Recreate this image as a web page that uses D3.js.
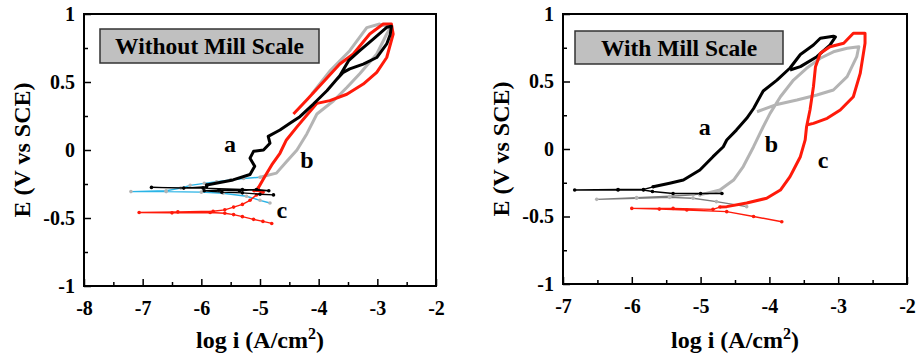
<!DOCTYPE html>
<html>
<head>
<meta charset="utf-8">
<script src="https://cdn.jsdelivr.net/npm/d3@7"></script>
<style>
  body { margin: 0; background: #fff; }
  svg { display: block; }
  text { font-family: "Liberation Serif", "Times New Roman", Times, serif; font-weight: bold; }
</style>
</head>
<body>
<div id="chart"></div>
<script>
// tick labels
const xTicksLeft = [-8, -7, -6, -5, -4, -3, -2];
const xTicksRight = [-7, -6, -5, -4, -3, -2];
const yTicks = [-1, -0.5, 0, 0.5, 1];

// ---- Without Mill Scale : [log i, E] ----
const leftA_cath = [[-4.77,-0.33],[-5.0,-0.325],[-5.3,-0.315],[-5.65,-0.31],[-5.95,-0.30],[-5.7,-0.295],[-5.35,-0.30],[-5.06,-0.29],[-4.85,-0.30],[-5.3,-0.29],[-5.97,-0.28],[-6.85,-0.275],[-6.3,-0.28],[-5.91,-0.27],[-5.91,-0.257]];
const leftA_anod = [[-5.91,-0.257],[-5.46,-0.22],[-5.17,-0.18],[-5.09,-0.12],[-5.17,-0.06],[-5.11,-0.01],[-4.94,0.0],[-4.83,0.05],[-4.86,0.10],[-4.66,0.147],[-4.49,0.196],[-4.32,0.245],[-4.09,0.338],[-3.86,0.436],[-3.64,0.546],[-3.49,0.657],[-3.30,0.73],[-3.07,0.816],[-2.84,0.902],[-2.76,0.91],[-2.78,0.85],[-2.84,0.78],[-3.01,0.68],[-3.24,0.632],[-3.47,0.596],[-3.58,0.571],[-3.69,0.52]];
const leftB_cath = [[-4.83,-0.39],[-5.0,-0.37],[-5.23,-0.34],[-5.63,-0.318],[-6.0,-0.31],[-6.6,-0.306],[-7.2,-0.306],[-6.6,-0.30],[-6.35,-0.28],[-6.19,-0.26],[-5.95,-0.245],[-5.74,-0.233],[-5.5,-0.22],[-5.28,-0.21],[-5.0,-0.2]];
const leftB_anod = [[-5.0,-0.2],[-4.72,-0.17],[-4.55,-0.086],[-4.37,0.0],[-4.2,0.12],[-4.03,0.265],[-3.75,0.36],[-3.52,0.46],[-3.30,0.56],[-3.01,0.706],[-2.84,0.853],[-2.78,0.9],[-2.96,0.926],[-3.18,0.90],[-3.47,0.73],[-3.81,0.58],[-4.12,0.41]];
const leftC_cath = [[-4.8,-0.54],[-4.95,-0.525],[-5.11,-0.51],[-5.3,-0.49],[-5.45,-0.475],[-5.6,-0.465],[-5.85,-0.46],[-6.5,-0.462],[-7.06,-0.46],[-6.4,-0.455],[-5.8,-0.45],[-5.6,-0.44],[-5.45,-0.42],[-5.3,-0.40],[-5.17,-0.37],[-5.06,-0.33],[-4.95,-0.31],[-5.1,-0.30],[-5.03,-0.28]];
const leftC_anod = [[-5.03,-0.28],[-4.92,-0.196],[-4.8,-0.11],[-4.66,-0.024],[-4.55,0.074],[-4.37,0.17],[-4.20,0.257],[-4.03,0.343],[-3.81,0.363],[-3.52,0.41],[-3.24,0.485],[-3.01,0.571],[-2.84,0.68],[-2.73,0.853],[-2.76,0.926],[-2.9,0.926],[-3.13,0.853],[-3.41,0.706],[-3.64,0.632],[-3.98,0.473],[-4.2,0.37],[-4.43,0.265]];

// ---- With Mill Scale : [log i, E] ----
const rightA_cath = [[-4.69,-0.33],[-5.0,-0.33],[-5.4,-0.33],[-5.7,-0.315],[-5.83,-0.304],[-6.2,-0.304],[-6.83,-0.304],[-6.2,-0.30],[-5.83,-0.30],[-5.69,-0.28]];
const rightA_anod = [[-5.69,-0.28],[-5.45,-0.254],[-5.25,-0.23],[-5.01,-0.156],[-4.82,-0.057],[-4.67,0.017],[-4.62,0.067],[-4.48,0.14],[-4.33,0.227],[-4.23,0.30],[-4.09,0.43],[-3.89,0.51],[-3.70,0.60],[-3.55,0.70],[-3.36,0.77],[-3.26,0.82],[-3.07,0.835],[-3.04,0.83],[-3.12,0.77],[-3.31,0.684],[-3.55,0.61],[-3.70,0.585]];
const rightB_cath = [[-4.33,-0.427],[-4.77,-0.39],[-5.11,-0.365],[-5.45,-0.358],[-5.93,-0.365],[-6.51,-0.373],[-5.93,-0.36],[-5.45,-0.35],[-5.11,-0.34],[-4.72,-0.316],[-5.01,-0.34]];
const rightB_anod = [[-5.01,-0.34],[-4.72,-0.304],[-4.52,-0.23],[-4.38,-0.13],[-4.23,0.017],[-4.09,0.165],[-3.99,0.264],[-3.84,0.387],[-3.65,0.511],[-3.46,0.598],[-3.26,0.672],[-3.07,0.72],[-2.87,0.746],[-2.70,0.758],[-2.73,0.684],[-2.87,0.536],[-3.07,0.437],[-3.31,0.40],[-3.60,0.363],[-3.89,0.33],[-4.18,0.276]];
const rightC_cath = [[-3.82,-0.539],[-4.23,-0.50],[-4.62,-0.464],[-5.20,-0.452],[-5.6,-0.445],[-6.0,-0.44],[-5.40,-0.44],[-4.82,-0.447],[-4.72,-0.43]];
const rightC_anod = [[-4.72,-0.43],[-4.62,-0.427],[-4.33,-0.40],[-4.04,-0.365],[-3.84,-0.304],[-3.70,-0.205],[-3.65,-0.156],[-3.55,-0.057],[-3.48,0.067],[-3.46,0.165],[-3.41,0.289],[-3.36,0.461],[-3.33,0.61],[-3.26,0.709],[-3.12,0.758],[-2.92,0.783],[-2.78,0.857],[-2.61,0.857],[-2.61,0.783],[-2.68,0.56],[-2.78,0.387],[-2.97,0.289],[-3.16,0.227],[-3.36,0.19],[-3.46,0.178]];

const curveLabels = ['a', 'b', 'c'];
const leftLabelPos = [[-5.51,-0.015],[-4.2,-0.135],[-4.63,-0.502]];
const rightLabelPos = [[-4.94,0.104],[-3.97,-0.02],[-3.22,-0.143]];

const svg = d3.select('#chart')
    .append('svg')
        .attr('width', 917)
        .attr('height', 361);

function drawPanel(p) {
    const x = d3.scaleLinear().domain(p.xDomain).range([p.left, p.right]);
    const y = d3.scaleLinear().domain([-1, 1]).range([p.bottom, p.top]);
    const g = svg.append('g');

    const line = d3.line().x(d => x(d[0])).y(d => y(d[1]));

    // curves: thin dotted cathodic part, thick anodic loop
    p.series.forEach(s => {
        g.append('path')
            .attr('d', line(s.cath))
            .attr('fill', 'none')
            .attr('stroke', s.thin)
            .attr('stroke-width', 1.4);
        g.selectAll(null).data(s.cath).enter().append('circle')
            .attr('cx', d => x(d[0]))
            .attr('cy', d => y(d[1]))
            .attr('r', 1.8)
            .style('fill', s.color);
        g.append('path')
            .attr('d', line(s.anod))
            .attr('fill', 'none')
            .attr('stroke', s.color)
            .attr('stroke-width', 3)
            .attr('stroke-linejoin', 'round');
    });

    // axes, ticks point inward
    const fmt = d => String(d);
    g.append('g')
        .attr('transform', 'translate(' + p.left + ',0)')
        .call(d3.axisLeft(y).tickValues(yTicks).tickSize(-7).tickPadding(9).tickFormat(fmt));
    g.append('g')
        .attr('transform', 'translate(' + p.left + ',0)')
        .call(d3.axisLeft(y).tickValues([-0.75, -0.25, 0.25, 0.75]).tickSize(-4).tickFormat(''));
    g.append('g')
        .attr('transform', 'translate(0,' + p.bottom + ')')
        .call(d3.axisBottom(x).tickValues(p.xTicks).tickSize(-7).tickPadding(15).tickFormat(fmt));
    g.append('g')
        .attr('transform', 'translate(0,' + p.bottom + ')')
        .call(d3.axisBottom(x).tickValues(p.xTicks.slice(1).map(v => v - 0.5)).tickSize(-4).tickFormat(''));
    g.selectAll('.domain').remove();
    g.selectAll('.tick line').attr('stroke', '#000').attr('stroke-width', 1.5);
    g.selectAll('.tick text')
        .style('font-size', '20px')
        .attr('fill', '#000');

    // frame
    g.append('rect')
        .attr('x', p.left)
        .attr('y', p.top)
        .attr('width', p.right - p.left)
        .attr('height', p.bottom - p.top)
        .attr('fill', 'none')
        .attr('stroke', '#000')
        .attr('stroke-width', 2);

    // title box
    g.append('rect')
        .attr('x', p.box[0])
        .attr('y', p.box[1])
        .attr('width', p.box[2])
        .attr('height', p.box[3])
        .style('fill', '#c0c0c0')
        .attr('stroke', '#333')
        .attr('stroke-width', 1.5);
    g.append('text')
        .attr('x', p.box[0] + p.box[2] / 2)
        .attr('y', p.box[1] + p.box[3] / 2 + 8)
        .attr('text-anchor', 'middle')
        .attr('font-size', 23.5)
        .text(p.title);

    // curve letters
    p.labels.forEach((d, i) => {
        g.append('text')
            .attr('x', x(d[0]))
            .attr('y', y(d[1]))
            .attr('text-anchor', 'middle')
            .attr('font-size', 24)
            .text(curveLabels[i]);
    });

    // axis titles
    const xt = g.append('text')
        .attr('x', (p.left + p.right) / 2)
        .attr('y', 348)
        .attr('text-anchor', 'middle')
        .attr('font-size', 24);
    xt.append('tspan').text('log i (A/cm');
    xt.append('tspan').attr('dy', -9).attr('font-size', 16).text('2');
    xt.append('tspan').attr('dy', 9).text(')');

    g.append('text')
        .attr('transform', 'translate(' + p.yTitleX + ',' + (p.top + p.bottom) / 2 + ') rotate(-90)')
        .attr('text-anchor', 'middle')
        .attr('font-size', 24)
        .text('E (V vs SCE)');
}

drawPanel({
    left: 84, right: 436, top: 14, bottom: 286,
    xDomain: [-8, -2], xTicks: xTicksLeft,
    yTitleX: 30,
    box: [100, 29, 219, 34],
    title: 'Without Mill Scale',
    labels: leftLabelPos,
    series: [
        { cath: leftB_cath, anod: leftB_anod, color: '#b4b4b4', thin: '#2ab4e6' },
        { cath: leftC_cath, anod: leftC_anod, color: '#ff1a0a', thin: '#ff1a0a' },
        { cath: leftA_cath, anod: leftA_anod, color: '#000000', thin: '#000000' }
    ]
});

drawPanel({
    left: 563, right: 907, top: 14, bottom: 284,
    xDomain: [-7, -2], xTicks: xTicksRight,
    yTitleX: 509,
    box: [575, 31, 208, 33],
    title: 'With Mill Scale',
    labels: rightLabelPos,
    series: [
        { cath: rightB_cath, anod: rightB_anod, color: '#b4b4b4', thin: '#7a7a7a' },
        { cath: rightA_cath, anod: rightA_anod, color: '#000000', thin: '#000000' },
        { cath: rightC_cath, anod: rightC_anod, color: '#ff1a0a', thin: '#ff1a0a' }
    ]
});
</script>
</body>
</html>
